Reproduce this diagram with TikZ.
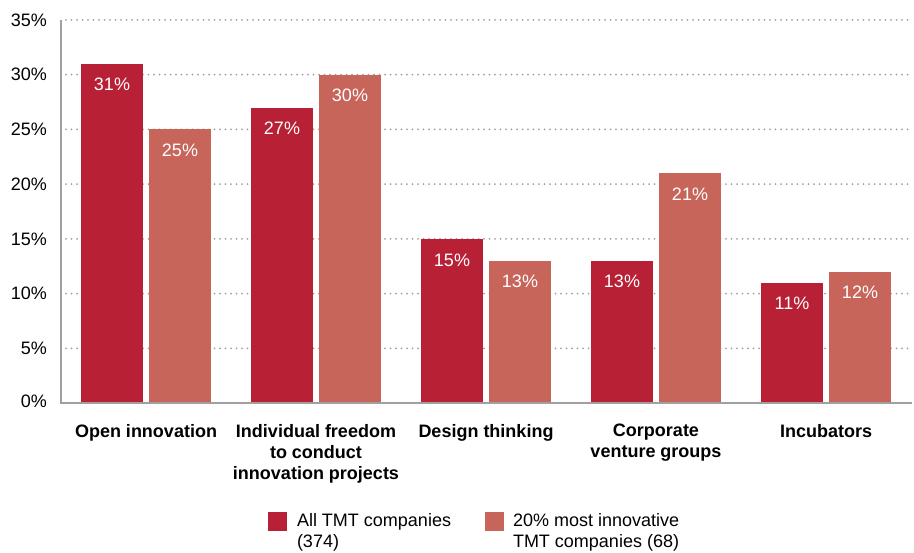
\documentclass[tikz,border=0pt]{standalone}
\usepackage{fontspec}
\setmainfont{Liberation Sans}
\definecolor{darkbar}{HTML}{B82035}
\definecolor{lightbar}{HTML}{C8655B}
\definecolor{axisgray}{HTML}{A0A0A0}
\begin{document}
\begin{tikzpicture}[x=1pt,y=-1pt,
  every node/.style={inner sep=0pt,outer sep=0pt},
  txt/.style={font=\fontsize{18}{21}\selectfont},
  grid/.style={axisgray,line width=2pt,line cap=round,dash pattern=on 0pt off 5.5pt},
  axis/.style={axisgray,line width=2.5pt},
  barA/.style={fill=darkbar,draw=none,minimum width=62pt,anchor=south},
  barB/.style={fill=lightbar,draw=none,minimum width=62pt,anchor=south},
  vlab/.style={txt,text=white},
  tick/.style={txt,anchor=east},
  cat/.style={txt,font=\fontsize{18}{21}\selectfont\bfseries,align=center,anchor=north},
  legbox/.style={minimum size=19pt,anchor=north west},
  legtxt/.style={txt,align=left,anchor=north west}]
\useasboundingbox (0,0) rectangle (914,553);
% gridlines
\foreach \v in {5,10,...,35} {
  \coordinate (gl\v) at (66,{403-\v*10.943});
  \coordinate (gr\v) at (909,{403-\v*10.943});
  \draw[grid] (gl\v) -- (gr\v);
  \node[tick] (t\v) at (47,{403-\v*10.943}) {\v\%};
}
\node[tick] (t0) at (47,401) {0\%};
% bars
\foreach \c/\a/\b [count=\i] in {146/31/25,316/27/30,486/15/13,656/13/21,826/11/12} {
  \node[barA,minimum height={\a*10.943pt}] (da\i) at ({\c-34},403) {};
  \node[barB,minimum height={\b*10.943pt}] (db\i) at ({\c+34},403) {};
  \node[vlab] (la\i) at ({\c-34},{403-\a*10.943+21}) {\a\%};
  \node[vlab] (lb\i) at ({\c+34},{403-\b*10.943+21}) {\b\%};
}
% axes
\coordinate (o) at (61,403);
\coordinate (ytop) at (61,20);
\coordinate (xend) at (912,403);
\draw[axisgray,line width=2pt] (ytop) -- (o);
\draw[axis] (60,403) -- (xend);
% categories
\node[cat] (c1) at (146,424) {Open innovation};
\node[cat] (c2) at (316,424) {Individual freedom\\to conduct\\innovation projects};
\node[cat] (c3) at (486,424) {Design thinking};
\node[cat] (c4) at (656,424) {Corporate\\venture groups};
\node[cat] (c5) at (826,424) {Incubators};
% legend
\node[legbox,fill=darkbar] (k1) at (268,512) {};
\node[legtxt] (k1t) at (297,513) {All TMT companies\\(374)};
\node[legbox,fill=lightbar] (k2) at (485,512) {};
\node[legtxt] (k2t) at (513,513) {20\% most innovative\\TMT companies (68)};
\end{tikzpicture}
\end{document}
